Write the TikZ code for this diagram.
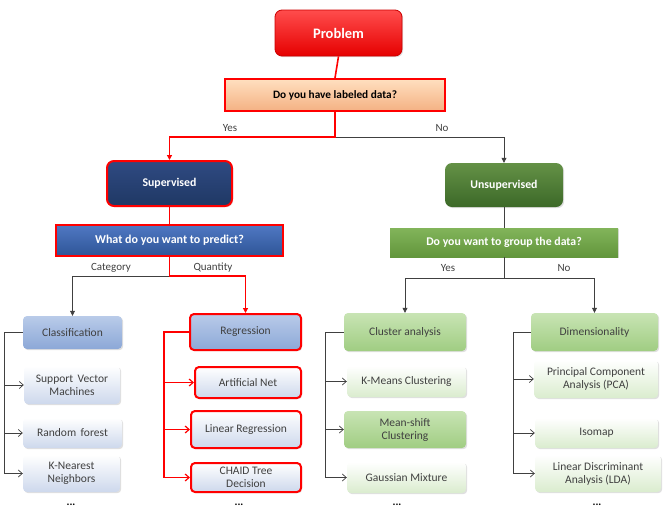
\documentclass[tikz,border=0pt]{standalone}
\usepackage{fontspec}
\setmainfont{Carlito}
\usetikzlibrary{arrows.meta,shadows,positioning}
\definecolor{redc}{HTML}{FF0000}
\definecolor{txtc}{HTML}{404040}
\tikzset{
  base/.style={inner sep=2pt, align=center, text=txtc, font=\fontsize{11.5}{13}\selectfont,
    drop shadow={opacity=0.25, shadow xshift=1.2pt, shadow yshift=-1.2pt}},
  redborder/.style={draw=redc, line width=2pt},
  problembox/.style={base, minimum width=127pt, minimum height=46pt, rounded corners=7pt,
    top color=red!70!white, bottom color=red!90!black, draw=red!80!black, line width=0.8pt,
    text=white, font=\bfseries\fontsize{14.5}{16}\selectfont},
  qone/.style={base, redborder, minimum width=220pt, minimum height=32pt,
    top color=orange!25!white, bottom color={rgb,255:red,244;green,177;blue,131}, text=black,
    font=\bfseries\fontsize{11.3}{13}\selectfont},
  supbox/.style={base, redborder, rounded corners=7pt, minimum width=125pt, minimum height=45pt,
    top color={rgb,255:red,47;green,74;blue,130}, bottom color={rgb,255:red,31;green,56;blue,100},
    text=white, font=\bfseries\fontsize{11.8}{13}\selectfont},
  qtwo/.style={base, redborder, minimum width=227pt, minimum height=31pt,
    top color={rgb,255:red,80;green,120;blue,195}, bottom color={rgb,255:red,46;green,85;blue,151},
    text=white, font=\bfseries\fontsize{12}{13}\selectfont},
  unsupbox/.style={base, rounded corners=7pt, minimum width=118pt, minimum height=44pt,
    top color={rgb,255:red,100;green,145;blue,70}, bottom color={rgb,255:red,60;green,105;blue,40},
    text=white, font=\bfseries\fontsize{11.8}{13}\selectfont},
  qthree/.style={base, minimum width=228pt, minimum height=29pt,
    top color={rgb,255:red,130;green,180;blue,90}, bottom color={rgb,255:red,98;green,150;blue,60},
    text=white, font=\bfseries\fontsize{11.8}{13}\selectfont},
  bluehead/.style={base, rounded corners=4pt, top color={rgb,255:red,185;green,203;blue,233},
    bottom color={rgb,255:red,140;green,168;blue,215}},
  bluleaf/.style={base, rounded corners=4pt, top color=white, bottom color={rgb,255:red,205;green,216;blue,236}},
  greenhead/.style={base, rounded corners=4pt, top color={rgb,255:red,200;green,228;blue,180},
    bottom color={rgb,255:red,160;green,205;blue,130}},
  greenleaf/.style={base, rounded corners=4pt, top color=white, bottom color={rgb,255:red,218;green,236;blue,206}},
  redline/.style={draw=redc, line width=1.6pt},
  blkline/.style={draw=black!75, line width=0.7pt},
  toparrow/.style={-{Triangle[length=5pt,width=5pt]}},
  leafarrow/.style={-{Straight Barb[length=4pt,width=7pt]}},
  lbl/.style={text=txtc, font=\fontsize{11}{12}\selectfont},
  dots/.style={font=\bfseries\fontsize{11}{12}\selectfont, text=black}
}
\begin{document}
\begin{tikzpicture}[x=1pt,y=-1pt]
\useasboundingbox (0,0) rectangle (669,509);
% top
\node[problembox] (prob) at (338.5,33) {Problem};
\node[qone] (q1) at (335,95) {Do you have labeled data?};
\node[supbox] (sup) at (169.5,183.5) {Supervised};
\node[qtwo] (q2) at (169.5,240.5) {What do you want to predict?};
\node[unsupbox] (uns) at (504,185) {Unsupervised};
\node[qthree] (q3) at (504,242.5) {Do you want to group the data?};
% classification column
\node[bluehead, minimum width=99pt, minimum height=33pt] (cls) at (72.5,332.5) {Classification};
\node[bluleaf, minimum width=96pt, minimum height=38pt] (svm) at (72,385) {Support\, Vector\\Machines};
\node[bluleaf, minimum width=99pt, minimum height=30pt] (rf) at (72.5,433) {Random\, forest};
\node[bluleaf, minimum width=97pt, minimum height=37pt] (knn) at (71.5,473.5) {K-Nearest\\Neighbors};
% regression column
\node[bluehead, redborder, minimum width=111pt, minimum height=36pt] (reg) at (245.5,332) {Regression};
\node[bluleaf, redborder, minimum width=106pt, minimum height=31pt] (ann) at (248,382.5) {Artificial Net};
\node[bluleaf, redborder, minimum width=110pt, minimum height=37pt] (lin) at (246,429.5) {Linear Regression};
\node[bluleaf, redborder, minimum width=110pt, minimum height=29pt] (chaid) at (246,477.5) {CHAID Tree\\Decision};
% cluster column
\node[greenhead, minimum width=122pt, minimum height=38pt] (clu) at (405,332) {Cluster analysis};
\node[greenleaf, minimum width=119pt, minimum height=31pt] (km) at (406.5,381.5) {K-Means Clustering};
\node[greenhead, minimum width=122pt, minimum height=37pt] (ms) at (405,429.5) {Mean-shift\\Clustering};
\node[greenleaf, minimum width=119pt, minimum height=31pt] (gm) at (406.5,477.5) {Gaussian Mixture};
% dimensionality column
\node[greenhead, minimum width=127pt, minimum height=38pt] (dim) at (594.5,332) {Dimensionality};
\node[greenleaf, minimum width=124pt, minimum height=38pt] (pca) at (596,379) {Principal Component\\Analysis (PCA)};
\node[greenleaf, minimum width=123pt, minimum height=30pt] (iso) at (596.5,433) {Isomap};
\node[greenleaf, minimum width=126pt, minimum height=37pt] (lda) at (598,473.5) {Linear Discriminant\\Analysis (LDA)};
% dots
\node[dots, anchor=base] (d1) at (71,505) {...};
\node[dots, anchor=base] (d2) at (239,505) {...};
\node[dots, anchor=base] (d3) at (397,505) {...};
\node[dots, anchor=base] (d4) at (597,505) {...};
% junctions
\coordinate (j1) at (335,137);
\coordinate (j2) at (169.5,276);
\coordinate (j3) at (504,278);
% top connectors
\draw[redline] (prob.south) -- (q1.north);
\draw[blkline, toparrow] (j1) -| (uns.north);
\draw[redline, toparrow] (q1.south) -- (j1) -| (sup.north);
\draw[redline] (sup.south) -- (q2.north);
\draw[blkline] (uns.south) -- (q3.north);
\draw[blkline, toparrow] (j2) -| (cls.north);
\draw[redline, toparrow] (q2.south) -- (j2) -| (reg.north);
\draw[blkline] (q3.south) -- (j3);
\draw[blkline, toparrow] (j3) -| (clu.north);
\draw[blkline, toparrow] (j3) -| (dim.north);
% labels
\node[lbl] (ly1) at (230,128) {Yes};
\node[lbl] (ln1) at (442,128) {No};
\node[lbl] (lc) at (111,268) {Category};
\node[lbl] (lq) at (213,268) {Quantity};
\node[lbl] (ly2) at (448,268) {Yes};
\node[lbl] (ln2) at (564,268) {No};
% brackets
\coordinate (b1) at (4,332.5);
\draw[blkline, leafarrow] (cls.west) -- (b1) |- (knn.west);
\draw[blkline, leafarrow] (b1 |- svm.west) -- (svm.west);
\draw[blkline, leafarrow] (b1 |- rf.west) -- (rf.west);
\coordinate (b2) at (164,332);
\draw[redline, line width=1.2pt, leafarrow] (reg.west) -- (b2) |- (chaid.west);
\draw[redline, line width=1.2pt, leafarrow] (b2 |- ann.west) -- (ann.west);
\draw[redline, line width=1.2pt, leafarrow] (b2 |- lin.west) -- (lin.west);
\coordinate (b3) at (325,332);
\draw[blkline, leafarrow] (clu.west) -- (b3) |- (gm.west);
\draw[blkline, leafarrow] (b3 |- km.west) -- (km.west);
\draw[blkline, leafarrow] (b3 |- ms.west) -- (ms.west);
\coordinate (b4) at (513,332);
\draw[blkline, leafarrow] (dim.west) -- (b4) |- (lda.west);
\draw[blkline, leafarrow] (b4 |- pca.west) -- (pca.west);
\draw[blkline, leafarrow] (b4 |- iso.west) -- (iso.west);
\end{tikzpicture}
\end{document}
